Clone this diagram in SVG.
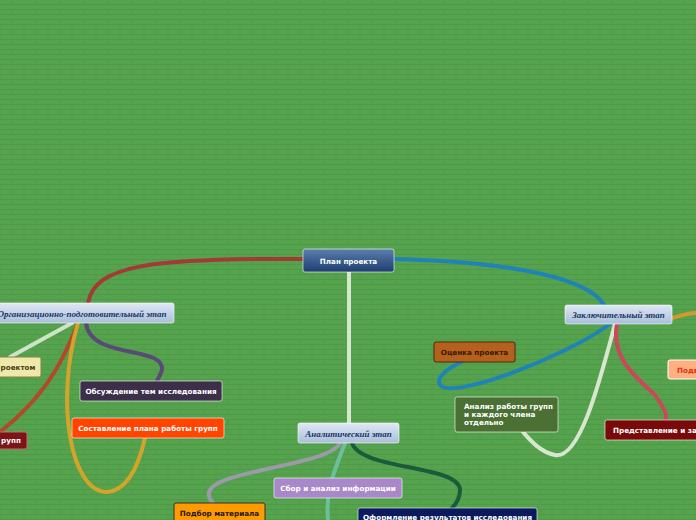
<svg xmlns="http://www.w3.org/2000/svg" width="696" height="520" viewBox="0 0 696 520">
<defs>
<pattern id="brick" width="24" height="10" patternUnits="userSpaceOnUse">
<rect width="24" height="10" fill="#56a34d"/>
<path d="M0 9.5H24M12 0V5M0 4.5H24M0 5V10M24 5V10" stroke="#50994a" stroke-width="1" fill="none"/>
</pattern>
<linearGradient id="gc" x1="0" y1="0" x2="0" y2="1"><stop offset="0" stop-color="#5a7fae"/><stop offset="1" stop-color="#1d3d6e"/></linearGradient>
<linearGradient id="gs" x1="0" y1="0" x2="0" y2="1"><stop offset="0" stop-color="#dfe8f5"/><stop offset="1" stop-color="#a9bedb"/></linearGradient>
</defs>
<style>
.c{fill:none;stroke-width:4;stroke-linecap:round}
.n{stroke:#fff;stroke-opacity:.6;stroke-width:1}
.t{font-family:"DejaVu Sans",sans-serif;font-size:7.2px;font-weight:bold;fill:#fff}
.s{font-family:"Liberation Serif",serif;font-size:9px;font-style:italic;font-weight:bold;fill:#1d3560}
</style>
<rect width="696" height="520" fill="url(#brick)"/>
<g id="connectors">
<path class="c" stroke="#a23a35" d="M303 259C150 258 95 265 88 303"/>
<path class="c" stroke="#1f83b8" d="M394 259C520 262 590 280 604 305"/>
<path class="c" stroke="#d7e7cf" stroke-width="2.5" d="M349 272V423"/>
<path class="c" stroke="#cfe3c7" d="M72 323L10 357"/>
<path class="c" stroke="#b04a2a" d="M78 323C60 370 40 400 0 432"/>
<path class="c" stroke="#d2a42a" d="M78 323C55 400 70 492 107 492C130 490 140 460 145 438"/>
<path class="c" stroke="#5a4a78" d="M86 323C90 360 165 345 162 370C160 376 158 378 157 381"/>
<path class="c" stroke="#9a9aa8" d="M340 443C330 465 220 470 210 490C207 496 210 500 213 503"/>
<path class="c" stroke="#6ac09a" d="M345 443C335 470 325 490 328 520"/>
<path class="c" stroke="#1c5a3c" d="M352 443C360 470 460 465 460 490C460 500 455 505 452 508"/>
<path class="c" stroke="#1f83b8" d="M610 324C560 360 450 400 440 385C435 375 455 365 461 362"/>
<path class="c" stroke="#d7e7cf" d="M615 324C600 380 580 460 555 455C540 452 530 440 523 432"/>
<path class="c" stroke="#c9485a" d="M617 324C610 360 640 380 655 395C665 410 668 415 665 420"/>
<path class="c" stroke="#d09a2e" d="M672 318C680 316 688 313 696 313"/>
</g>
<g id="center"><rect class="n" x="303" y="249" width="91" height="23" rx="2" fill="url(#gc)"/><text class="t" x="348.5" y="264" text-anchor="middle" font-size="9">План проекта</text></g>
<g id="org"><rect class="n" x="-10" y="303" width="184" height="20" rx="2" fill="url(#gs)"/><text class="s" x="82" y="316.5" text-anchor="middle">Организационно-подготовительный этап</text></g>
<g id="proj"><rect x="-5" y="357" width="46" height="20" rx="2" fill="#eee8aa" stroke="#8a8040"/><text class="t" x="18" y="369.5" text-anchor="middle" style="fill:#4a3f10">роектом</text></g>
<g id="grupp"><rect x="-5" y="432" width="32" height="17" rx="2" fill="#7a1518" stroke="#c07070"/><text class="t" x="11" y="443" text-anchor="middle">рупп</text></g>
<g id="obs"><rect class="n" x="80" y="381" width="142" height="20" rx="2" fill="#3d2e4a"/><text class="t" x="151" y="393.5" text-anchor="middle">Обсуждение тем исследования</text></g>
<g id="plan"><rect class="n" x="72" y="418" width="152" height="20" rx="2" fill="#ff4500"/><text class="t" x="148" y="430.5" text-anchor="middle">Составление плана работы групп</text></g>
<g id="anal"><rect class="n" x="298" y="423" width="101" height="20" rx="2" fill="url(#gs)"/><text class="s" x="348.5" y="436.5" text-anchor="middle">Аналитический этап</text></g>
<g id="sbor"><rect class="n" x="274" y="478" width="128" height="20" rx="2" fill="#a888c8"/><text class="t" x="338" y="490.5" text-anchor="middle">Сбор и анализ информации</text></g>
<g id="podbor"><rect x="174" y="503" width="91" height="22" rx="2" fill="#ff9a00" stroke="#333"/><text class="t" x="219.5" y="516" text-anchor="middle" style="fill:#1a1a1a">Подбор материала</text></g>
<g id="oform"><rect class="n" x="358" y="508" width="179" height="20" rx="2" fill="#0a1a5c"/><text class="t" x="447.5" y="520" text-anchor="middle">Оформление результатов исследования</text></g>
<g id="zakl"><rect class="n" x="565" y="305" width="107" height="19" rx="2" fill="url(#gs)"/><text class="s" x="618.5" y="318" text-anchor="middle">Заключительный этап</text></g>
<g id="ocenka"><rect x="434" y="342" width="81" height="20" rx="2" fill="#b5601c" stroke="#4a2a10"/><text class="t" x="474.5" y="354.5" text-anchor="middle" style="fill:#3a1a08">Оценка проекта</text></g>
<g id="analiz"><rect class="n" x="455" y="397" width="103" height="35" rx="2" fill="#4a7034"/><text class="t" x="464" y="409">Анализ работы групп</text><text class="t" x="464" y="417">и каждого члена</text><text class="t" x="464" y="425">отдельно</text></g>
<g id="podv"><rect x="668" y="360" width="40" height="19" rx="2" fill="#ffb080" stroke="#fff"/><text class="t" x="677" y="372.5" style="fill:#e03010">Подв</text></g>
<g id="pred"><rect class="n" x="605" y="420" width="100" height="20" rx="2" fill="#7a0a0a"/><text class="t" x="613" y="432.5">Представление и защ</text></g>
</svg>
